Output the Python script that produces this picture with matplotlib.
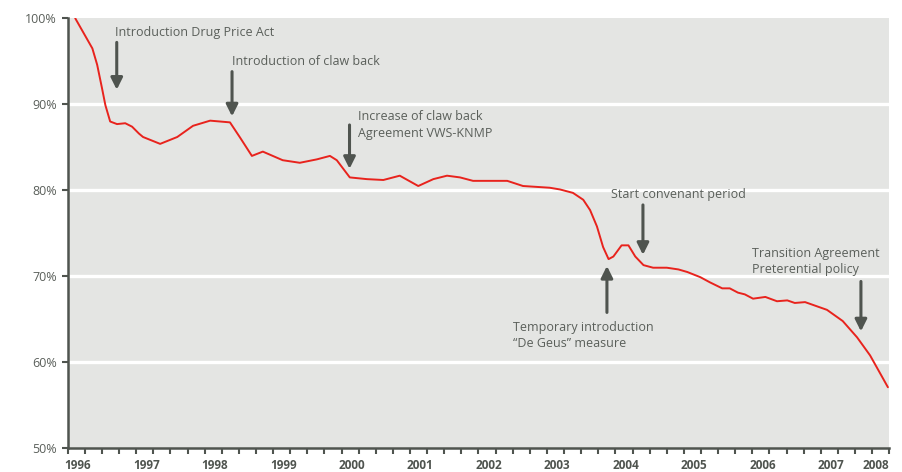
import numpy as np
import matplotlib.pyplot as plt
from matplotlib.transforms import blended_transform_factory

# Index of drug prices (1996 = 100%)
years = [1996.11, 1996.36, 1996.43, 1996.50, 1996.55, 1996.62, 1996.72, 1996.84,
         1996.94, 1997.04, 1997.10,
         1997.35, 1997.60, 1997.83, 1998.08, 1998.37, 1998.52, 1998.69, 1998.85,
         1999.14, 1999.39, 1999.64, 1999.83, 1999.93, 2000.12, 2000.37, 2000.61,
         2000.85, 2001.12, 2001.34, 2001.54, 2001.73, 2001.92, 2002.21, 2002.42,
         2002.65, 2003.04, 2003.19, 2003.38, 2003.53, 2003.63, 2003.73, 2003.82,
         2003.90, 2003.97, 2004.09, 2004.19, 2004.29, 2004.41, 2004.55, 2004.75,
         2004.92, 2005.05, 2005.24, 2005.38, 2005.56,
         2005.67, 2005.79, 2005.89, 2006.01, 2006.19, 2006.36, 2006.51, 2006.62,
         2006.77, 2007.09, 2007.32, 2007.53, 2007.72, 2007.91, 2007.98]
index = [100.0, 96.5, 94.6, 91.9, 89.9, 88.0, 87.7, 87.8,
         87.4, 86.6, 86.2,
         85.4, 86.2, 87.5, 88.1, 87.9, 86.1, 84.0, 84.5,
         83.5, 83.2, 83.6, 84.0, 83.5, 81.5, 81.3, 81.2,
         81.7, 80.5, 81.3, 81.7, 81.5, 81.1, 81.1, 81.1,
         80.5, 80.3, 80.1, 79.7, 78.9, 77.7, 75.8, 73.4,
         72.0, 72.3, 73.6, 73.6, 72.3, 71.3, 71.0, 71.0,
         70.8, 70.5, 69.9, 69.3, 68.6,
         68.6, 68.1, 67.9, 67.4, 67.6, 67.1, 67.2, 66.9,
         67.0, 66.1, 64.8, 62.9, 60.8, 58.1, 57.1]

year_labels = [str(y) for y in range(1996, 2009)]
y_ticks = [50, 60, 70, 80, 90, 100]

# annotations: text, text position, arrow tail, arrow tip
notes = [
    ("Introduction Drug Price Act", (1996.69, 98.4), (1996.716, 97.2), (1996.716, 91.7)),
    ("Introduction of claw back", (1998.40, 95.0), (1998.40, 93.8), (1998.40, 88.6)),
    ("Increase of claw back\nAgreement VWS-KNMP", (2000.24, 87.6), (2000.116, 87.6), (2000.116, 82.5)),
    ("Start convenant period", (2003.93, 79.5), (2004.402, 78.3), (2004.402, 72.5)),
    ("Temporary introduction\n\u201cDe Geus\u201d measure", (2002.50, 63.1), (2003.876, 65.8), (2003.876, 71.2)),
    ("Transition Agreement\nPreterential policy", (2005.994, 71.75), (2007.586, 69.4), (2007.586, 63.6)),
]

plt.rcParams['font.family'] = ['Open Sans', 'DejaVu Sans']
dark = '#4f544f'
txt = '#5a5f5a'

fig = plt.figure(figsize=(9.03, 4.72), dpi=100)
ax = fig.add_axes([0.075, 0.0502, 0.9098, 0.911])
ax.set_facecolor('#e4e5e3')

for v in y_ticks[1:-1]:
    ax.axhline(v, color='white', lw=2.4, zorder=1)

ax.plot(years, index, color='#e8231d', lw=1.4, zorder=3,
        solid_joinstyle='round', solid_capstyle='round')

for label, tpos, tail, tip in notes:
    ax.text(tpos[0], tpos[1], label, fontsize=9, color=txt, va='center', ha='left',
            linespacing=1.35, zorder=4)
    ax.annotate('', xy=tip, xytext=tail,
                arrowprops=dict(arrowstyle='-|>,head_width=0.35,head_length=0.7',
                                color=dark, lw=2.2, shrinkA=0, shrinkB=0), zorder=4)

ax.set_xlim(1996, 2008)
ax.set_ylim(50, 100)

ax.set_yticks(y_ticks)
ax.set_yticklabels([f'{v}%' for v in y_ticks])
ax.tick_params(axis='y', length=4, width=1.5, color=dark, labelcolor=txt, labelsize=9, pad=4)

ax.set_xticks(np.arange(1996, 2008.01, 0.25))
ax.set_xticklabels([])
ax.tick_params(axis='x', which='major', length=4, width=1.5, color=dark, direction='out')

trans = blended_transform_factory(ax.transData, ax.transAxes)
label_x = [y + 0.15 for y in range(1996, 2008)] + [2007.81]
for lx, lab in zip(label_x, year_labels):
    ax.text(lx, -0.025, lab, transform=trans, ha='center', va='top',
            fontsize=8.5, fontweight='bold', color=dark)

for side in ['top', 'right']:
    ax.spines[side].set_visible(False)
for side in ['left', 'bottom']:
    ax.spines[side].set_color(dark)
    ax.spines[side].set_linewidth(1.8)

fig.savefig('out.png', dpi=100)
